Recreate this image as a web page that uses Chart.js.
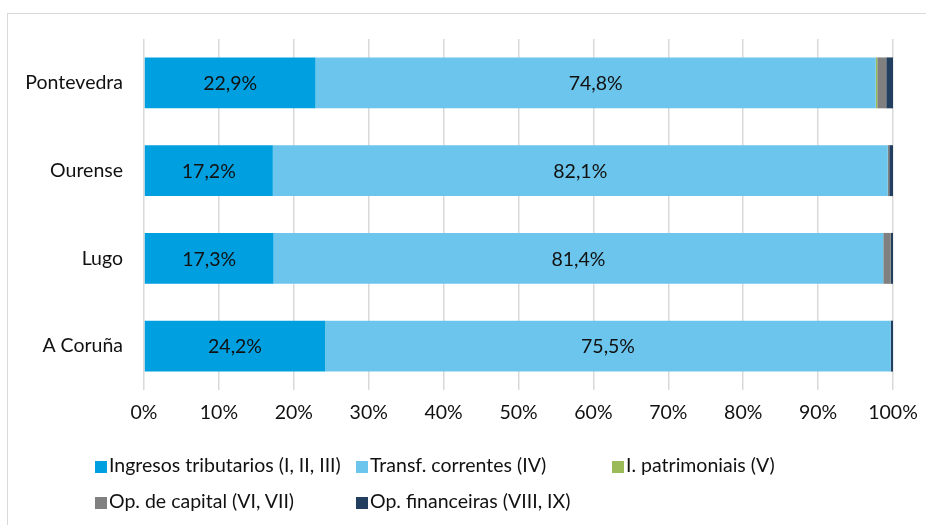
<!DOCTYPE html>
<html>
<head>
<meta charset="utf-8">
<script src="https://cdn.jsdelivr.net/npm/chart.js@4/dist/chart.umd.min.js"></script>
<style>
  body { margin: 0; background: #fff; font-family: Lato, sans-serif; }
  #wrap { position: relative; width: 926px; height: 525px; overflow: hidden; }
  #frame { position: absolute; left: 7px; top: 13px; width: 960px; height: 560px; border: 1px solid #d9d9d9; }
  #c { position: absolute; left: 0; top: 0; }
  #legend { position: absolute; left: 0; top: 0; }
  .item { position: absolute; font-size: 19.5px; line-height: 24px; color: #111; white-space: nowrap; }
  .item span { display: inline-block; width: 12px; height: 12px; margin-right: 2px; vertical-align: -1px; }
</style>
</head>
<body>
<div id="wrap">
  <div id="frame"></div>
  <canvas id="c" width="926" height="525"></canvas>
  <div id="legend"></div>
</div>
<script>
const provinces = ["Pontevedra", "Ourense", "Lugo", "A Coruña"];
const seriesNames = ["Ingresos tributarios (I, II, III)", "Transf. correntes (IV)", "I. patrimoniais (V)", "Op. de capital (VI, VII)", "Op. financeiras (VIII, IX)"];
const tributarios = [22.9, 17.2, 17.3, 24.2];
const transferencias = [74.8, 82.1, 81.4, 75.5];
const patrimoniais = [0.2, 0.0, 0.0, 0.0];
const capital = [1.2, 0.2, 1.0, 0.0];
const financeiras = [0.9, 0.5, 0.3, 0.3];
const colors = ["#009fdf", "#6cc5ec", "#9bbb59", "#808080", "#233f60"];
const labelled = [true, true, false, false, false];

const values = [tributarios, transferencias, patrimoniais, capital, financeiras];
const fontSize = 19.5;

// draws the value labels in the middle of the first two segments
const barLabels = {
  id: "barLabels",
  afterDatasetsDraw(chart) {
    const ctx = chart.ctx;
    ctx.save();
    ctx.font = fontSize + "px Lato";
    ctx.fillStyle = "#111";
    ctx.textAlign = "center";
    ctx.textBaseline = "middle";
    chart.data.datasets.forEach(function (ds, i) {
      if (!labelled[i]) return;
      chart.getDatasetMeta(i).data.forEach(function (bar, j) {
        let x = (bar.x + bar.base) / 2;
        ctx.fillText(ds.data[j].toFixed(1).replace(".", ",") + "%", x, bar.y + 1);
      });
    });
    ctx.restore();
  }
};

let datasets = seriesNames.map(function (name, i) {
  return {
    label: name,
    data: values[i],
    backgroundColor: colors[i],
    borderWidth: 0,
    categoryPercentage: 1,
    barPercentage: 0.58
  };
});

new Chart(document.getElementById("c"), {
  type: "bar",
  data: { labels: provinces, datasets: datasets },
  options: {
    indexAxis: "y",
    responsive: false,
    animation: false,
    layout: { padding: { top: 39, right: 33, left: 0, bottom: 0 } },
    plugins: { legend: { display: false }, tooltip: { enabled: false } },
    scales: {
      x: {
        stacked: true,
        min: 0,
        max: 100,
        ticks: {
          stepSize: 10,
          padding: 11,
          color: "#111",
          font: { family: "Lato", size: fontSize },
          callback: function (v) { return v + "%"; }
        },
        grid: { color: "#d9d9d9", lineWidth: 1.5, tickLength: 0 },
        border: { display: false },
        afterFit: function (s) {
          s.height = 135;
          s.paddingLeft = 0;
          s.paddingRight = 0;
        }
      },
      y: {
        stacked: true,
        ticks: { padding: 13, color: "#111", font: { family: "Lato", size: fontSize } },
        grid: { display: false },
        border: { display: false },
        afterFit: function (s) { s.width = 144; }
      }
    }
  },
  plugins: [barLabels]
});

// legend laid out in fixed columns like the original
const legendPos = [[95, 453], [356, 453], [612, 453], [95, 489], [356, 489]];
const legend = document.getElementById("legend");
seriesNames.forEach(function (name, i) {
  let d = document.createElement("div");
  d.className = "item";
  d.style.left = legendPos[i][0] + "px";
  d.style.top = legendPos[i][1] + "px";
  d.innerHTML = '<span style="background:' + colors[i] + '"></span>' + name;
  legend.appendChild(d);
});
</script>
</body>
</html>
